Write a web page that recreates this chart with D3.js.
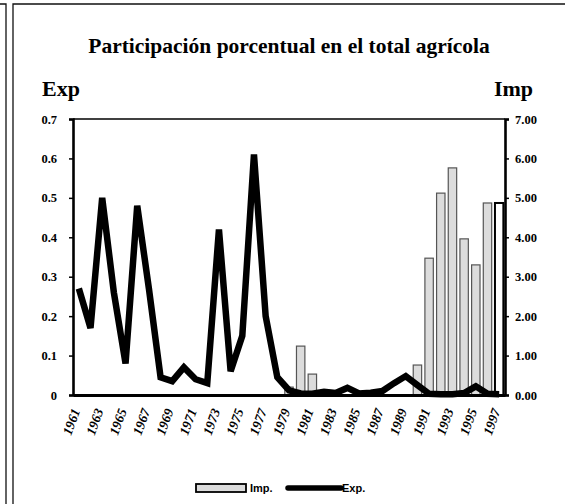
<!DOCTYPE html>
<html lang="es">
<meta charset="utf-8">
<title>Participación porcentual en el total agrícola</title>
<style>
  body { margin: 0; background: #fff; }
  svg { display: block; }
</style>
<body>
<div id="chart"></div>
<script src="https://cdn.jsdelivr.net/npm/d3@7"></script>
<script>
// Years on the x axis
var years = d3.range(1961, 1998);
// Exports share (left axis)
var expValues = [0.27, 0.17, 0.50, 0.26, 0.08, 0.48, 0.27, 0.045, 0.035, 0.07,
  0.04, 0.03, 0.42, 0.06, 0.15, 0.61, 0.20, 0.045, 0.012, 0.004,
  0.003, 0.008, 0.005, 0.018, 0.004, 0.006, 0.01, 0.03, 0.048, 0.025,
  0.003, 0.002, 0.002, 0.005, 0.022, 0.003, 0.002];
// Imports share (right axis, bars)
var impValues = [0, 0, 0, 0, 0, 0, 0, 0, 0, 0,
  0, 0, 0, 0, 0, 0, 0, 0, 0.2, 1.24,
  0.53, 0, 0, 0, 0, 0, 0, 0, 0, 0.76,
  3.47, 5.12, 5.76, 3.96, 3.30, 4.87, 4.87];
var expTicks = [0, 0.1, 0.2, 0.3, 0.4, 0.5, 0.6, 0.7];
var impTicks = [0, 1, 2, 3, 4, 5, 6, 7];
var yearLabels = years.filter(function(y) { return (y - 1961) % 2 === 0; });

var W = 566, H = 504;
var plotLeft = 73, plotRight = 505, plotTop = 119, plotBottom = 395;
var serif = "'Liberation Serif', 'Times New Roman', serif";

var svg = d3.select("#chart").append("svg").attr("width", W).attr("height", H);

// scanned-page frame lines
svg.append("path").attr("d", "M0,4 H6 V504").attr("fill", "none").attr("stroke", "#111").attr("stroke-width", 1.3);
svg.append("path").attr("d", "M13,504 V4 H565").attr("fill", "none").attr("stroke", "#111").attr("stroke-width", 1.3);

var x = d3.scaleBand().domain(years).range([plotLeft, plotRight]).paddingInner(0.28).paddingOuter(0.14);
var yExp = d3.scaleLinear().domain([0, 0.7]).range([plotBottom, plotTop]);
var yImp = d3.scaleLinear().domain([0, 7]).range([plotBottom, plotTop]);

// title
svg.append("text").attr("x", 289).attr("y", 53).attr("text-anchor", "middle")
  .style("font-family", serif).style("font-weight", "bold").style("font-size", "21.5px")
  .text("Participación porcentual en el total agrícola");
svg.append("text").attr("x", 42).attr("y", 96)
  .style("font-family", serif).style("font-weight", "bold").style("font-size", "22px").text("Exp");
svg.append("text").attr("x", 533).attr("y", 96).attr("text-anchor", "end")
  .style("font-family", serif).style("font-weight", "bold").style("font-size", "22px").text("Imp");

// top frame of plot
svg.append("line").attr("x1", plotLeft).attr("x2", plotRight).attr("y1", plotTop).attr("y2", plotTop)
  .attr("stroke", "#000").attr("stroke-width", 1.5);

// import bars (the last one sits on the right axis, drawn as an open box)
svg.append("g").selectAll("rect")
  .data(years.map(function(y, i) { return { year: y, v: impValues[i] }; }).filter(function(d) { return d.v > 0; }))
  .join("rect")
  .attr("x", function(d) { return x(d.year); })
  .attr("y", function(d) { return yImp(d.v); })
  .attr("width", x.bandwidth())
  .attr("height", function(d) { return plotBottom - yImp(d.v); })
  .attr("fill", function(d) { return d.year === 1997 ? "#fff" : "#dcdcdc"; })
  .attr("stroke", function(d) { return d.year === 1997 ? "#000" : "#555"; })
  .attr("stroke-width", function(d) { return d.year === 1997 ? 2 : 1.2; });

// export line
var line = d3.line()
  .x(function(d, i) { return x(years[i]) + x.bandwidth() / 2; })
  .y(function(d) { return yExp(d); });
svg.append("path").datum(expValues).attr("d", line)
  .attr("fill", "none").attr("stroke", "#000").attr("stroke-width", 6.5)
  .attr("stroke-linejoin", "miter").attr("stroke-miterlimit", 3);

// left axis
var gl = svg.append("g").attr("transform", "translate(" + plotLeft + ",0)")
  .call(d3.axisLeft(yExp).tickValues(expTicks).tickSize(4).tickPadding(12)
    .tickFormat(function(d) { return d === 0 ? "0" : d3.format(".1f")(d); }));
// right axis
var gr = svg.append("g").attr("transform", "translate(" + plotRight + ",0)")
  .call(d3.axisRight(yImp).tickValues(impTicks).tickSize(4).tickPadding(6)
    .tickFormat(d3.format(".2f")));
[gl, gr].forEach(function(g) {
  g.select(".domain").attr("stroke-width", 2.6);
  g.selectAll(".tick line").attr("stroke-width", 1.5);
  g.selectAll(".tick text").style("font-family", serif).style("font-weight", "bold").style("font-size", "12.5px");
});

// bottom axis
var gb = svg.append("g").attr("transform", "translate(0," + plotBottom + ")")
  .call(d3.axisBottom(x).tickValues(yearLabels).tickSize(0).tickPadding(0));
gb.select(".domain").attr("stroke-width", 3);
gb.selectAll(".tick text")
  .style("font-family", serif).style("font-weight", "bold").style("font-style", "italic").style("font-size", "13.5px")
  .attr("text-anchor", "end")
  .attr("transform", "translate(-3,14) rotate(-70)")
  .attr("dy", "0.35em").attr("y", 0).attr("x", 0);

// legend
var sans = "'Liberation Sans', Arial, sans-serif";
svg.append("rect").attr("x", 196).attr("y", 484).attr("width", 50).attr("height", 8)
  .attr("fill", "#dcdcdc").attr("stroke", "#000").attr("stroke-width", 1.8);
svg.append("text").attr("x", 250).attr("y", 492)
  .style("font-family", sans).style("font-weight", "bold").style("font-size", "11px").text("Imp.");
svg.append("line").attr("x1", 288).attr("x2", 341).attr("y1", 488).attr("y2", 488)
  .attr("stroke", "#000").attr("stroke-width", 5.5).attr("stroke-linecap", "round");
svg.append("text").attr("x", 342).attr("y", 492)
  .style("font-family", sans).style("font-weight", "bold").style("font-size", "11px").text("Exp.");
</script>
</body>
</html>
